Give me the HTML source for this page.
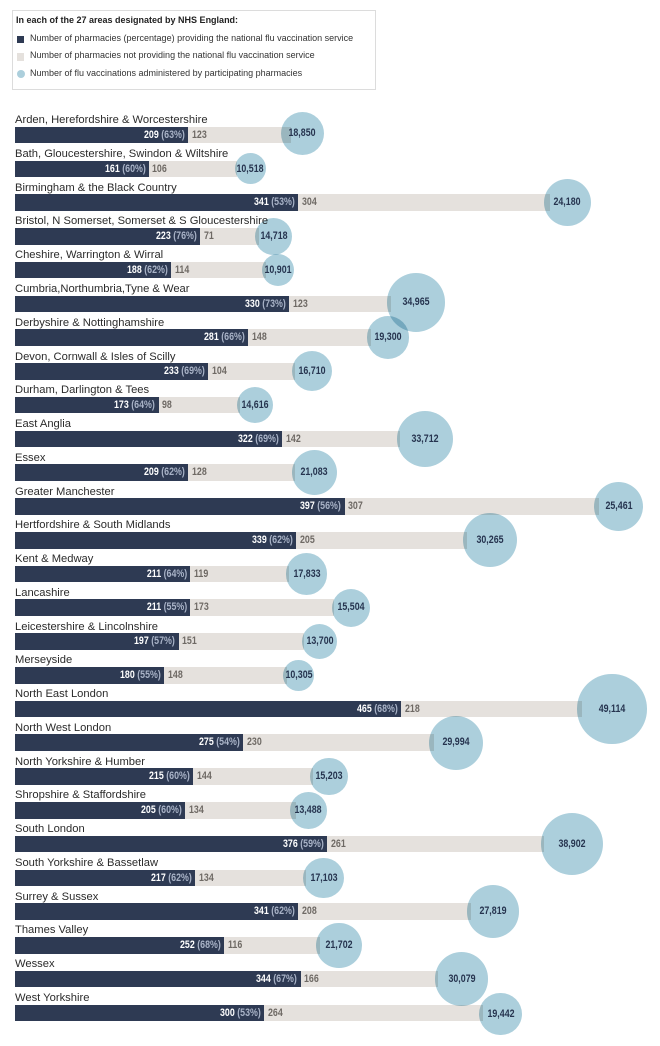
<!DOCTYPE html>
<html><head><meta charset="utf-8">
<style>
html,body{margin:0;padding:0;background:#fff}
body{width:660px;height:1046px;position:relative;overflow:hidden;font-family:"Liberation Sans",Arial,sans-serif}
.lg{position:absolute;left:11.5px;top:9.5px;width:362px;height:78px;border:1px solid #dcdcdc}
.lt{position:absolute;left:16px;font-size:9px;line-height:11px;color:#222;white-space:nowrap}
.sq{position:absolute;left:16.5px;width:7.5px;height:7.5px}
.row{position:absolute;left:0;width:660px;height:17px}
.lb{position:absolute;left:15px;top:-12.6px;font-size:11.2px;line-height:13px;color:#2b2b2b;white-space:nowrap}
.d{position:absolute;left:15px;top:0;height:16.6px;background:#2e3a53;z-index:1}
.l{position:absolute;top:0;height:16.6px;background:#e5e1dd;z-index:1}
.dt{position:absolute;top:0;font-weight:bold;font-size:10.8px;line-height:16.6px;color:#fff;transform:scaleX(.82);transform-origin:right center;white-space:nowrap;z-index:2}
.dt span{color:#aab4c8}
.gt{position:absolute;top:0;font-weight:bold;font-size:10.8px;line-height:16.6px;color:#6e6964;transform:scaleX(.82);transform-origin:left center;white-space:nowrap;z-index:2}
.c{position:absolute;border-radius:50%;background:#accfdc;mix-blend-mode:multiply;z-index:3}
.ct{position:absolute;top:0;font-weight:bold;font-size:10.8px;line-height:16.6px;color:#26344f;transform:translateX(-50%) scaleX(.82);white-space:nowrap;z-index:4}
</style></head><body>

<div class="lg"></div>
<div class="lt" style="top:14.5px;font-weight:bold">In each of the 27 areas designated by NHS England:</div>
<div class="sq" style="top:35.5px;background:#2e3a53"></div>
<div class="lt" style="top:32.7px;left:30px;color:#333">Number of pharmacies (percentage) providing the national flu vaccination service</div>
<div class="sq" style="top:53px;background:#e5e1dd"></div>
<div class="lt" style="top:50.2px;left:30px;color:#333">Number of pharmacies not providing the national flu vaccination service</div>
<div class="sq" style="top:70px;border-radius:50%;width:8px;height:8px;background:#accfdc"></div>
<div class="lt" style="top:67.7px;left:30px;color:#333">Number of flu vaccinations administered by participating pharmacies</div>

<div class="row" style="top:126.8px">
<div class="lb">Arden, Herefordshire &amp; Worcestershire</div>
<div class="d" style="width:173.47px"></div><div class="l" style="left:188.47px;width:102.09px"></div>
<div class="dt" style="right:474.83px">209 <span>(63%)</span></div><div class="gt" style="left:192.07px">123</div>
<div class="c" style="left:280.5px;top:-15.2px;width:43px;height:43px"></div><div class="ct" style="left:302px;top:-2px">18,850</div>
</div>

<div class="row" style="top:160.56px">
<div class="lb">Bath, Gloucestershire, Swindon &amp; Wiltshire</div>
<div class="d" style="width:133.63px"></div><div class="l" style="left:148.63px;width:87.98px"></div>
<div class="dt" style="right:514.67px">161 <span>(60%)</span></div><div class="gt" style="left:152.23px">106</div>
<div class="c" style="left:234.8px;top:-7.2px;width:31px;height:31px"></div><div class="ct" style="left:250.3px">10,518</div>
</div>

<div class="row" style="top:194.32px">
<div class="lb">Birmingham &amp; the Black Country</div>
<div class="d" style="width:283.03px"></div><div class="l" style="left:298.03px;width:252.32px"></div>
<div class="dt" style="right:365.27px">341 <span>(53%)</span></div><div class="gt" style="left:301.63px">304</div>
<div class="c" style="left:543.8px;top:-15.2px;width:47px;height:47px"></div><div class="ct" style="left:567.3px">24,180</div>
</div>

<div class="row" style="top:228.08px">
<div class="lb">Bristol, N Somerset, Somerset &amp; S Gloucestershire</div>
<div class="d" style="width:185.09px"></div><div class="l" style="left:200.09px;width:58.93px"></div>
<div class="dt" style="right:463.21px">223 <span>(76%)</span></div><div class="gt" style="left:203.69px">71</div>
<div class="c" style="left:255px;top:-10.4px;width:37.4px;height:37.4px"></div><div class="ct" style="left:273.7px">14,718</div>
</div>

<div class="row" style="top:261.84px">
<div class="lb">Cheshire, Warrington &amp; Wirral</div>
<div class="d" style="width:156.04px"></div><div class="l" style="left:171.04px;width:94.62px"></div>
<div class="dt" style="right:492.26px">188 <span>(62%)</span></div><div class="gt" style="left:174.64px">114</div>
<div class="c" style="left:262.3px;top:-7.7px;width:32px;height:32px"></div><div class="ct" style="left:278.3px">10,901</div>
</div>

<div class="row" style="top:295.6px">
<div class="lb">Cumbria,Northumbria,Tyne &amp; Wear</div>
<div class="d" style="width:273.9px"></div><div class="l" style="left:288.9px;width:102.09px"></div>
<div class="dt" style="right:374.4px">330 <span>(73%)</span></div><div class="gt" style="left:292.5px">123</div>
<div class="c" style="left:386.6px;top:-22.3px;width:58.4px;height:58.4px"></div><div class="ct" style="left:415.8px;top:-1.4px">34,965</div>
</div>

<div class="row" style="top:329.36px">
<div class="lb">Derbyshire &amp; Nottinghamshire</div>
<div class="d" style="width:233.23px"></div><div class="l" style="left:248.23px;width:122.84px"></div>
<div class="dt" style="right:415.07px">281 <span>(66%)</span></div><div class="gt" style="left:251.83px">148</div>
<div class="c" style="left:366.7px;top:-13px;width:42.6px;height:42.6px"></div><div class="ct" style="left:388px">19,300</div>
</div>

<div class="row" style="top:363.12px">
<div class="lb">Devon, Cornwall &amp; Isles of Scilly</div>
<div class="d" style="width:193.39px"></div><div class="l" style="left:208.39px;width:86.32px"></div>
<div class="dt" style="right:454.91px">233 <span>(69%)</span></div><div class="gt" style="left:211.99px">104</div>
<div class="c" style="left:291.7px;top:-11.7px;width:40px;height:40px"></div><div class="ct" style="left:311.7px">16,710</div>
</div>

<div class="row" style="top:396.88px">
<div class="lb">Durham, Darlington &amp; Tees</div>
<div class="d" style="width:143.59px"></div><div class="l" style="left:158.59px;width:81.34px"></div>
<div class="dt" style="right:504.71px">173 <span>(64%)</span></div><div class="gt" style="left:162.19px">98</div>
<div class="c" style="left:236.7px;top:-9.7px;width:36px;height:36px"></div><div class="ct" style="left:254.7px">14,616</div>
</div>

<div class="row" style="top:430.64px">
<div class="lb">East Anglia</div>
<div class="d" style="width:267.26px"></div><div class="l" style="left:282.26px;width:117.86px"></div>
<div class="dt" style="right:381.04px">322 <span>(69%)</span></div><div class="gt" style="left:285.86px">142</div>
<div class="c" style="left:396.7px;top:-20px;width:56.6px;height:56.6px"></div><div class="ct" style="left:425px">33,712</div>
</div>

<div class="row" style="top:464.4px">
<div class="lb">Essex</div>
<div class="d" style="width:173.47px"></div><div class="l" style="left:188.47px;width:106.24px"></div>
<div class="dt" style="right:474.83px">209 <span>(62%)</span></div><div class="gt" style="left:192.07px">128</div>
<div class="c" style="left:291.7px;top:-14.2px;width:45px;height:45px"></div><div class="ct" style="left:314.2px">21,083</div>
</div>

<div class="row" style="top:498.16px">
<div class="lb">Greater Manchester</div>
<div class="d" style="width:329.51px"></div><div class="l" style="left:344.51px;width:254.81px"></div>
<div class="dt" style="right:318.79px">397 <span>(56%)</span></div><div class="gt" style="left:348.11px">307</div>
<div class="c" style="left:594px;top:-16.4px;width:49.4px;height:49.4px"></div><div class="ct" style="left:618.7px">25,461</div>
</div>

<div class="row" style="top:531.92px">
<div class="lb">Hertfordshire &amp; South Midlands</div>
<div class="d" style="width:281.37px"></div><div class="l" style="left:296.37px;width:170.15px"></div>
<div class="dt" style="right:366.93px">339 <span>(62%)</span></div><div class="gt" style="left:299.97px">205</div>
<div class="c" style="left:462.7px;top:-18.7px;width:54px;height:54px"></div><div class="ct" style="left:489.7px">30,265</div>
</div>

<div class="row" style="top:565.68px">
<div class="lb">Kent &amp; Medway</div>
<div class="d" style="width:175.13px"></div><div class="l" style="left:190.13px;width:98.77px"></div>
<div class="dt" style="right:473.17px">211 <span>(64%)</span></div><div class="gt" style="left:193.73px">119</div>
<div class="c" style="left:286px;top:-12.4px;width:41.4px;height:41.4px"></div><div class="ct" style="left:306.7px">17,833</div>
</div>

<div class="row" style="top:599.44px">
<div class="lb">Lancashire</div>
<div class="d" style="width:175.13px"></div><div class="l" style="left:190.13px;width:143.59px"></div>
<div class="dt" style="right:473.17px">211 <span>(55%)</span></div><div class="gt" style="left:193.73px">173</div>
<div class="c" style="left:331.6px;top:-10.9px;width:38.4px;height:38.4px"></div><div class="ct" style="left:350.8px">15,504</div>
</div>

<div class="row" style="top:633.2px">
<div class="lb">Leicestershire &amp; Lincolnshire</div>
<div class="d" style="width:163.51px"></div><div class="l" style="left:178.51px;width:125.33px"></div>
<div class="dt" style="right:484.79px">197 <span>(57%)</span></div><div class="gt" style="left:182.11px">151</div>
<div class="c" style="left:301.7px;top:-9.5px;width:35.6px;height:35.6px"></div><div class="ct" style="left:319.5px">13,700</div>
</div>

<div class="row" style="top:666.96px">
<div class="lb">Merseyside</div>
<div class="d" style="width:149.4px"></div><div class="l" style="left:164.4px;width:122.84px"></div>
<div class="dt" style="right:498.9px">180 <span>(55%)</span></div><div class="gt" style="left:168px">148</div>
<div class="c" style="left:283.4px;top:-7px;width:30.6px;height:30.6px"></div><div class="ct" style="left:298.7px">10,305</div>
</div>

<div class="row" style="top:700.72px">
<div class="lb">North East London</div>
<div class="d" style="width:385.95px"></div><div class="l" style="left:400.95px;width:180.94px"></div>
<div class="dt" style="right:262.35px">465 <span>(68%)</span></div><div class="gt" style="left:404.55px">218</div>
<div class="c" style="left:577.4px;top:-26.3px;width:69.2px;height:69.2px"></div><div class="ct" style="left:612px">49,114</div>
</div>

<div class="row" style="top:734.48px">
<div class="lb">North West London</div>
<div class="d" style="width:228.25px"></div><div class="l" style="left:243.25px;width:190.9px"></div>
<div class="dt" style="right:420.05px">275 <span>(54%)</span></div><div class="gt" style="left:246.85px">230</div>
<div class="c" style="left:429.3px;top:-18.7px;width:54px;height:54px"></div><div class="ct" style="left:456.3px">29,994</div>
</div>

<div class="row" style="top:768.24px">
<div class="lb">North Yorkshire &amp; Humber</div>
<div class="d" style="width:178.45px"></div><div class="l" style="left:193.45px;width:119.52px"></div>
<div class="dt" style="right:469.85px">215 <span>(60%)</span></div><div class="gt" style="left:197.05px">144</div>
<div class="c" style="left:310px;top:-10.5px;width:37.6px;height:37.6px"></div><div class="ct" style="left:328.8px">15,203</div>
</div>

<div class="row" style="top:802px">
<div class="lb">Shropshire &amp; Staffordshire</div>
<div class="d" style="width:170.15px"></div><div class="l" style="left:185.15px;width:111.22px"></div>
<div class="dt" style="right:478.15px">205 <span>(60%)</span></div><div class="gt" style="left:188.75px">134</div>
<div class="c" style="left:290px;top:-10px;width:36.6px;height:36.6px"></div><div class="ct" style="left:308.3px">13,488</div>
</div>

<div class="row" style="top:835.76px">
<div class="lb">South London</div>
<div class="d" style="width:312.08px"></div><div class="l" style="left:327.08px;width:216.63px"></div>
<div class="dt" style="right:336.22px">376 <span>(59%)</span></div><div class="gt" style="left:330.68px">261</div>
<div class="c" style="left:540.7px;top:-22.7px;width:62px;height:62px"></div><div class="ct" style="left:571.7px">38,902</div>
</div>

<div class="row" style="top:869.52px">
<div class="lb">South Yorkshire &amp; Bassetlaw</div>
<div class="d" style="width:180.11px"></div><div class="l" style="left:195.11px;width:111.22px"></div>
<div class="dt" style="right:468.19px">217 <span>(62%)</span></div><div class="gt" style="left:198.71px">134</div>
<div class="c" style="left:303.4px;top:-12px;width:40.6px;height:40.6px"></div><div class="ct" style="left:323.7px">17,103</div>
</div>

<div class="row" style="top:903.28px">
<div class="lb">Surrey &amp; Sussex</div>
<div class="d" style="width:283.03px"></div><div class="l" style="left:298.03px;width:172.64px"></div>
<div class="dt" style="right:365.27px">341 <span>(62%)</span></div><div class="gt" style="left:301.63px">208</div>
<div class="c" style="left:466.6px;top:-17.9px;width:52.4px;height:52.4px"></div><div class="ct" style="left:492.8px">27,819</div>
</div>

<div class="row" style="top:937.04px">
<div class="lb">Thames Valley</div>
<div class="d" style="width:209.16px"></div><div class="l" style="left:224.16px;width:96.28px"></div>
<div class="dt" style="right:439.14px">252 <span>(68%)</span></div><div class="gt" style="left:227.76px">116</div>
<div class="c" style="left:316px;top:-14.5px;width:45.6px;height:45.6px"></div><div class="ct" style="left:338.8px">21,702</div>
</div>

<div class="row" style="top:970.8px">
<div class="lb">Wessex</div>
<div class="d" style="width:285.52px"></div><div class="l" style="left:300.52px;width:137.78px"></div>
<div class="dt" style="right:362.78px">344 <span>(67%)</span></div><div class="gt" style="left:304.12px">166</div>
<div class="c" style="left:435px;top:-18.4px;width:53.4px;height:53.4px"></div><div class="ct" style="left:461.7px">30,079</div>
</div>

<div class="row" style="top:1004.56px">
<div class="lb">West Yorkshire</div>
<div class="d" style="width:249px"></div><div class="l" style="left:264px;width:219.12px"></div>
<div class="dt" style="right:399.3px">300 <span>(53%)</span></div><div class="gt" style="left:267.6px">264</div>
<div class="c" style="left:479.3px;top:-11.7px;width:42.4px;height:42.4px"></div><div class="ct" style="left:500.5px;top:1.5px">19,442</div>
</div>

</body></html>
